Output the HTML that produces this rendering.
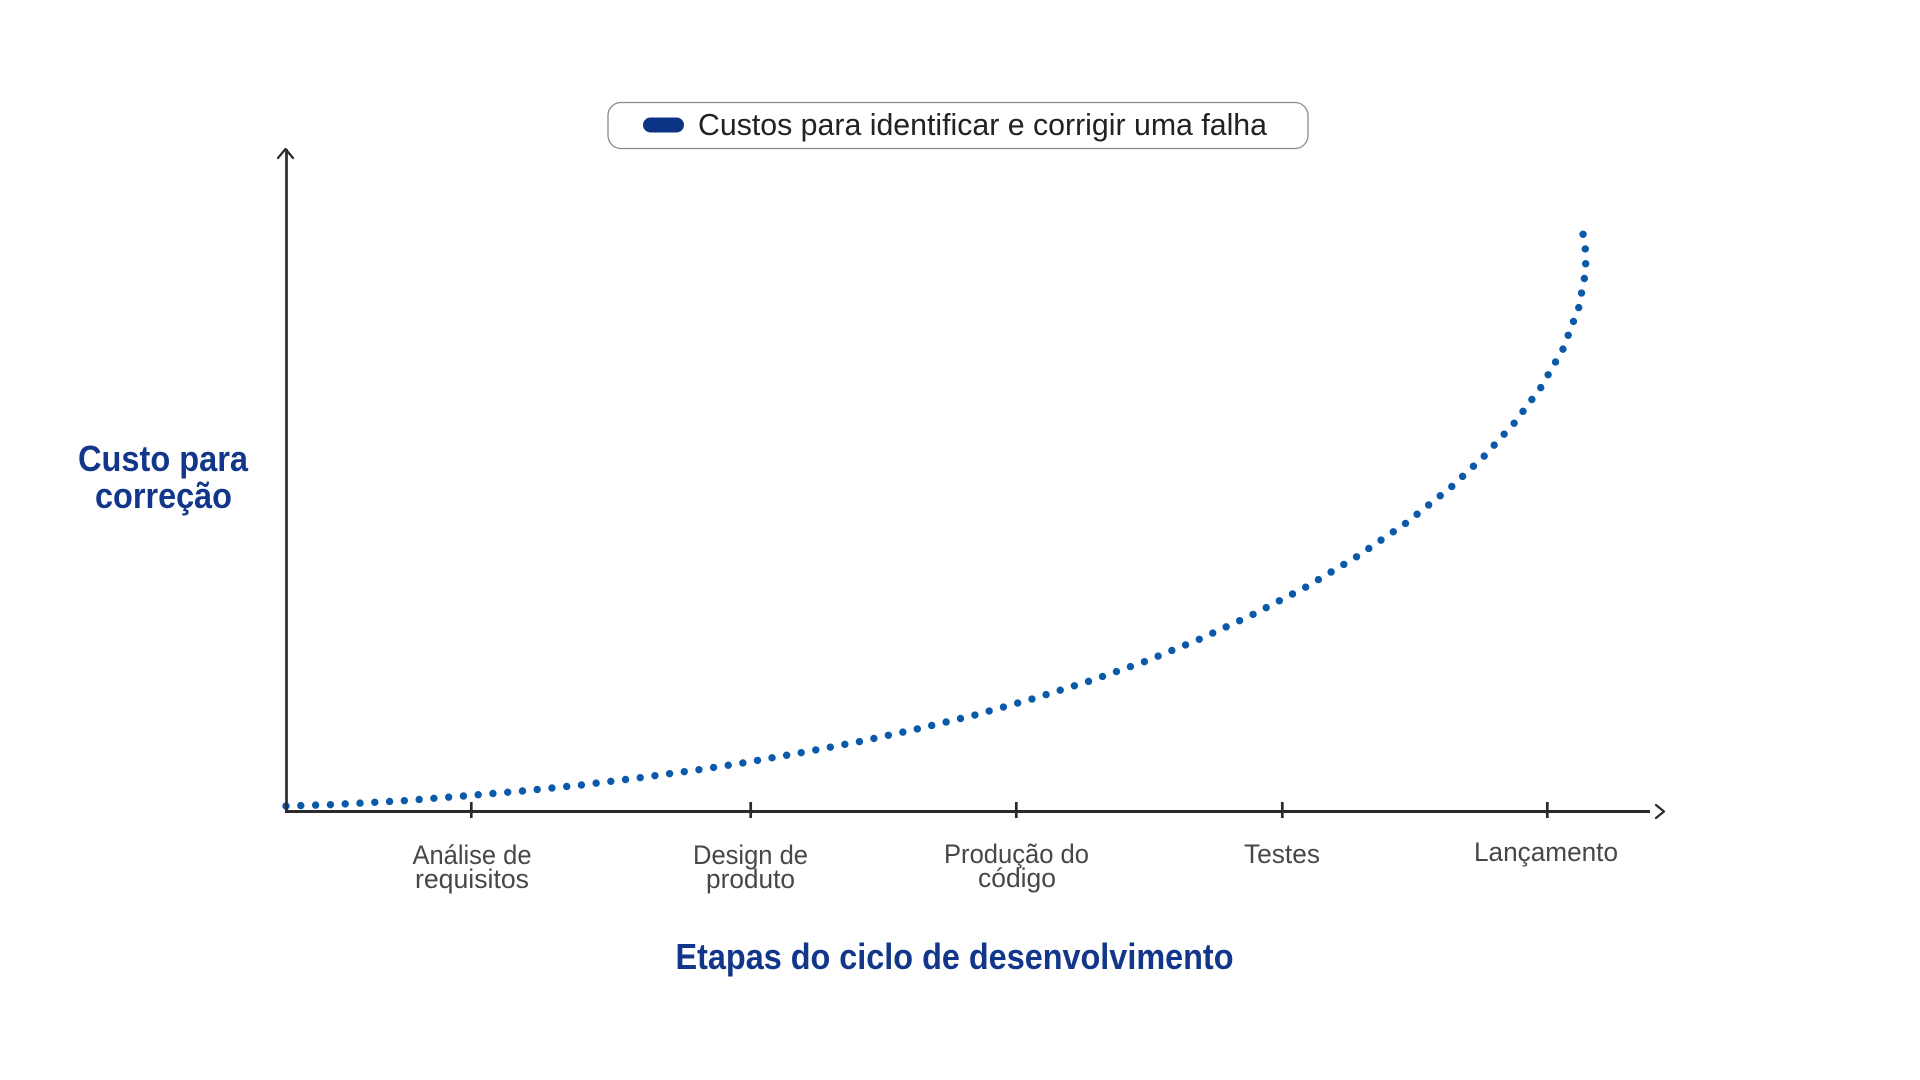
<!DOCTYPE html>
<html>
<head>
<meta charset="utf-8">
<style>
  html, body { margin: 0; padding: 0; background: #ffffff; }
  body { width: 1920px; height: 1080px; overflow: hidden; }
  svg { display: block; }
  text { font-family: "Liberation Sans", "DejaVu Sans", sans-serif; }
</style>
</head>
<body>
<svg width="1920" height="1080" viewBox="0 0 1920 1080" xmlns="http://www.w3.org/2000/svg">
  <rect x="0" y="0" width="1920" height="1080" fill="#ffffff"/>

  <!-- Legend -->
  <rect x="608" y="102.5" width="700" height="46" rx="13" ry="13" fill="#ffffff" stroke="#8c8c8c" stroke-width="1.3"/>
  <rect x="643" y="117.5" width="41" height="15" rx="7.5" ry="7.5" fill="#0d3484"/>
  <text x="698" y="135" font-size="31" fill="#222222" textLength="569" lengthAdjust="spacingAndGlyphs">Custos para identificar e corrigir uma falha</text>

  <!-- Dotted curve -->
  <path d="M286,806 L330,804.7 L403.7,800.7 L463,796 L522,791 L581,785 L640,777.7 L698.7,769.7 L742.7,763 L801,752.7 L859,741.7 L917,729 L975,715 L1032,699 L1088.7,681.3 L1144.3,661.7 L1199.3,639.3 L1253.3,614.3 L1306,587 L1356.7,556.7 L1405.7,523.3 L1452,486.3 L1484.3,456 L1514.3,423 L1540.7,387.7 L1563,349 L1578.7,307.7 L1584.3,278.7 L1585.7,263.7 L1585.3,249 L1583,234"
        fill="none" stroke="#0b5aa9" stroke-width="7.4" stroke-linecap="round" stroke-linejoin="round"
        pathLength="103.02" stroke-dasharray="0 1"/>

  <!-- Y axis -->
  <line x1="286.5" y1="149" x2="286.5" y2="812" stroke="#2b2b2b" stroke-width="2.7"/>
  <polyline points="278,158 285.5,149 293,158" fill="none" stroke="#2b2b2b" stroke-width="2.2" stroke-linecap="round" stroke-linejoin="round"/>

  <!-- X axis -->
  <line x1="285" y1="811.5" x2="1650" y2="811.5" stroke="#2b2b2b" stroke-width="3"/>
  <polyline points="1656,805 1664,811.5 1656,818" fill="none" stroke="#2b2b2b" stroke-width="2.2" stroke-linecap="round" stroke-linejoin="round"/>

  <!-- Ticks -->
  <g stroke="#2b2b2b" stroke-width="2.7">
    <line x1="471.3" y1="802" x2="471.3" y2="818"/>
    <line x1="750.7" y1="802" x2="750.7" y2="818"/>
    <line x1="1016.3" y1="802" x2="1016.3" y2="818"/>
    <line x1="1282.3" y1="802" x2="1282.3" y2="818"/>
    <line x1="1547.3" y1="802" x2="1547.3" y2="818"/>
  </g>

  <!-- Tick labels -->
  <g font-size="27" fill="#474747" text-anchor="middle">
    <text x="472" y="864" textLength="119" lengthAdjust="spacingAndGlyphs">Análise de</text>
    <text x="472" y="888" textLength="114" lengthAdjust="spacingAndGlyphs">requisitos</text>
    <text x="750.5" y="864" textLength="115" lengthAdjust="spacingAndGlyphs">Design de</text>
    <text x="750.5" y="888" textLength="89" lengthAdjust="spacingAndGlyphs">produto</text>
    <text x="1016.5" y="863" textLength="145" lengthAdjust="spacingAndGlyphs">Produção do</text>
    <text x="1017" y="887" textLength="78" lengthAdjust="spacingAndGlyphs">código</text>
    <text x="1282" y="863" textLength="76" lengthAdjust="spacingAndGlyphs">Testes</text>
    <text x="1546" y="861" textLength="144" lengthAdjust="spacingAndGlyphs">Lançamento</text>
  </g>

  <!-- Y axis title -->
  <g font-size="36" font-weight="bold" fill="#11368a" text-anchor="middle">
    <text x="163" y="471" textLength="170" lengthAdjust="spacingAndGlyphs">Custo para</text>
    <text x="163.5" y="508" textLength="137" lengthAdjust="spacingAndGlyphs">correção</text>
  </g>

  <!-- X axis title -->
  <text x="954.5" y="969" font-size="36" font-weight="bold" fill="#11368a" text-anchor="middle" textLength="558" lengthAdjust="spacingAndGlyphs">Etapas do ciclo de desenvolvimento</text>
</svg>
</body>
</html>
